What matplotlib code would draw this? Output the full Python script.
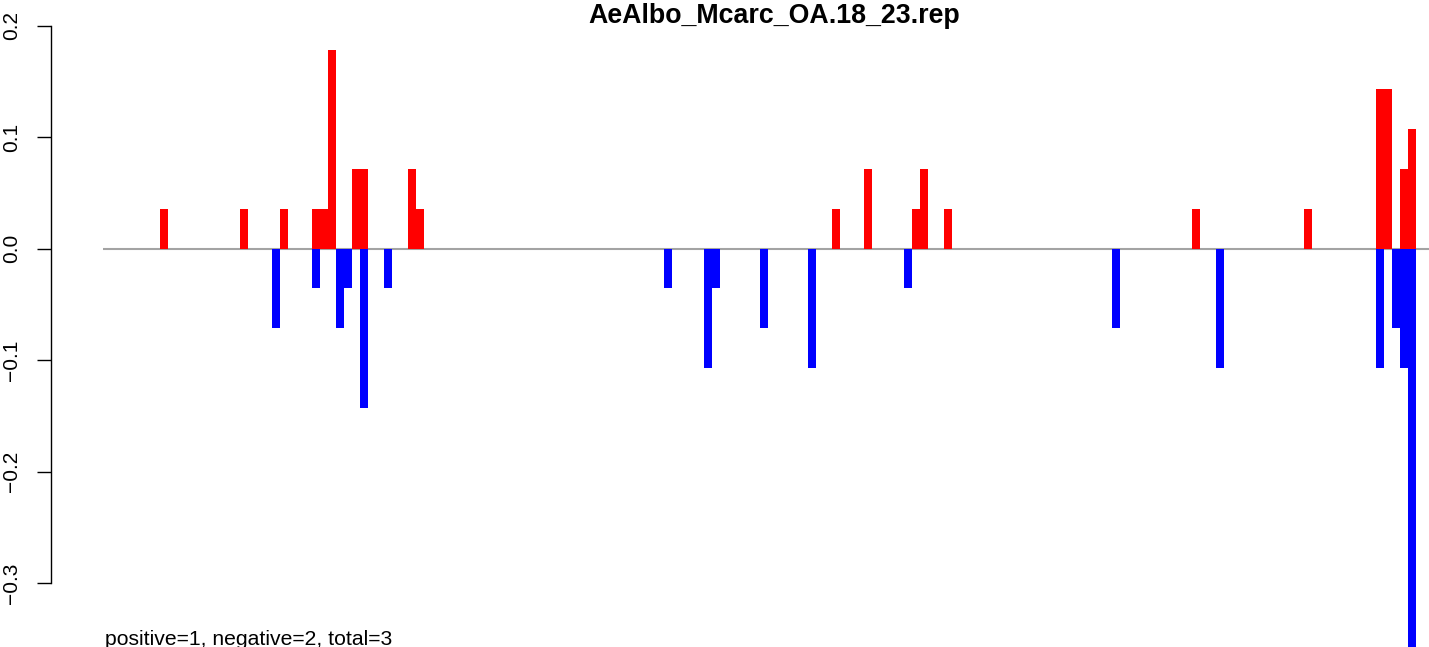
import matplotlib
matplotlib.use("Agg")
import matplotlib.pyplot as plt

title = "AeAlbo_Mcarc_OA.18_23.rep"
footer = "positive=1, negative=2, total=3"
n_positions = 164

pos_index = [7, 17, 22, 26, 27, 28, 31, 32, 38, 39, 91, 95, 101, 102, 105,
             136, 150, 159, 160, 162, 163]
pos_value = [0.0357, 0.0357, 0.0357, 0.0357, 0.0357, 0.1786, 0.0714, 0.0714,
             0.0714, 0.0357, 0.0357, 0.0714, 0.0357, 0.0714, 0.0357,
             0.0357, 0.0357, 0.1429, 0.1429, 0.0714, 0.1071]

neg_index = [21, 26, 29, 30, 32, 35, 70, 75, 76, 82, 88, 100, 126, 139,
             159, 161, 162, 163]
neg_value = [-0.0714, -0.0357, -0.0714, -0.0357, -0.1429, -0.0357, -0.0357,
             -0.1071, -0.0357, -0.0714, -0.1071, -0.0357, -0.0714, -0.1071,
             -0.1071, -0.0714, -0.1071, -0.3571]

y_ticks = [-0.3, -0.2, -0.1, 0.0, 0.1, 0.2]
y_ticklabels = ["\u22120.3", "\u22120.2", "\u22120.1", "0.0", "0.1", "0.2"]

W, H = 1429, 647
plt.rcParams['font.family'] = ['Liberation Sans', 'DejaVu Sans']
fig = plt.figure(figsize=(W / 100, H / 100), dpi=100)
ax = fig.add_axes([0, 0, 1, 1])
ax.patch.set_alpha(0)

# pixel mapping: x_px = 104 + 8*i ; y_px = 248.6 - v*1114.6
ax.set_xlim(-13, (W - 104) / 8)
ax.set_ylim((248.6 - H) / 1114.6, 248.6 / 1114.6)

ax.plot([-0.125, n_positions + 5], [0, 0], color='#a3a3a3', lw=1.5, zorder=1,
        solid_capstyle='butt')
ax.bar(pos_index, pos_value, width=1.0, align='edge', color='#ff0000',
       linewidth=0, zorder=2)
ax.bar(neg_index, neg_value, width=1.0, align='edge', color='#0000ff',
       linewidth=0, zorder=2)

for s in ['top', 'right', 'bottom']:
    ax.spines[s].set_visible(False)
ax.spines['left'].set_position(('data', (50.7 - 104) / 8))
ax.spines['left'].set_bounds(-0.3, 0.2)
ax.spines['left'].set_linewidth(1.0)
ax.set_xticks([])
ax.set_yticks(y_ticks)
ax.set_yticklabels(y_ticklabels, rotation=90, va='center', ha='right')
ax.tick_params(axis='y', length=9.9, width=1.0, pad=11.5, labelsize=15)

fig.text(774.5 / W, 1 - 22.7 / H, title, ha='center', va='baseline',
         fontsize=19.3, fontweight='bold')
fig.text(105 / W, 1 - 645 / H, footer, ha='left', va='baseline', fontsize=15.2)

fig.savefig("out.png", dpi=100)
